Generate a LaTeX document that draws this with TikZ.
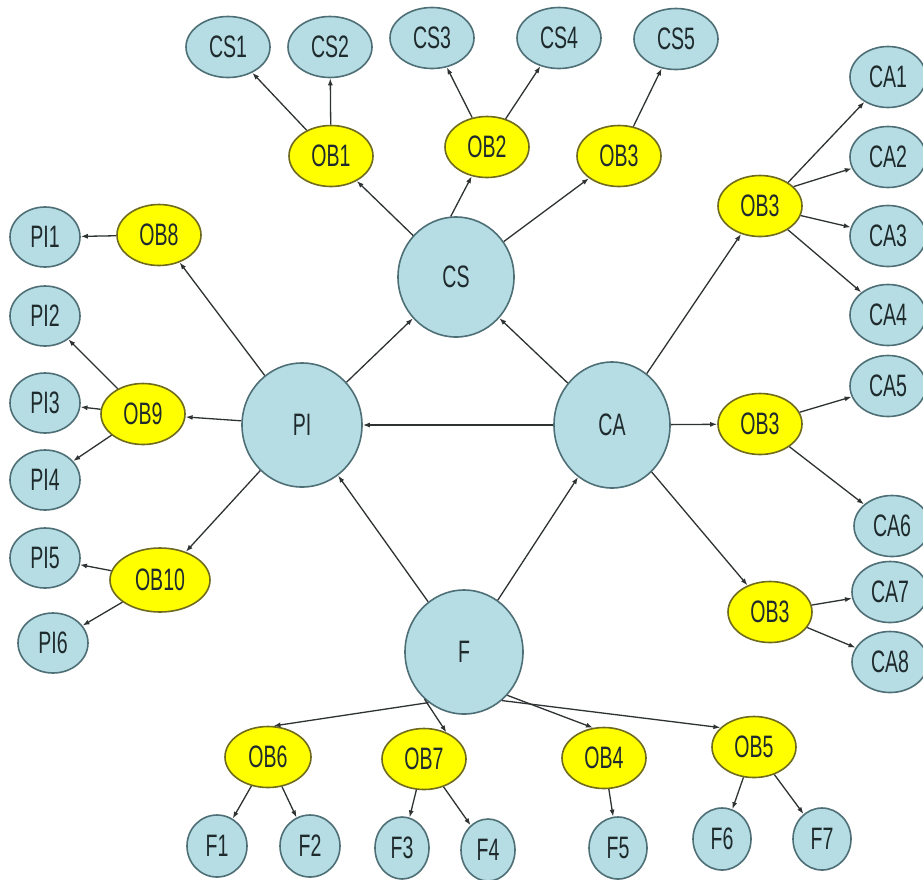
\documentclass[tikz,border=0pt]{standalone}
\usepackage{fontspec}
\setmainfont{Liberation Sans}[FakeStretch=0.63]
\usetikzlibrary{shapes.geometric,arrows.meta}
\definecolor{nodeblue}{HTML}{B6DCE4}
\definecolor{nodeblueline}{HTML}{4E6F75}
\definecolor{nodeyellow}{HTML}{FFFF00}
\definecolor{nodeyellowline}{HTML}{6E6A1E}
\definecolor{edgegray}{HTML}{2E3233}
\definecolor{labelink}{HTML}{1E2A2C}
\tikzset{
  base/.style={ellipse, inner sep=0pt, line width=1.6pt, text=labelink,
    font=\fontsize{31}{31}\selectfont},
  hub/.style={base, fill=nodeblue, draw=nodeblueline,
    minimum width=116pt, minimum height=122pt},
  obj/.style={base, fill=nodeyellow, draw=nodeyellowline,
    minimum width=84pt, minimum height=61pt},
  wide/.style={obj, minimum width=100pt, minimum height=64pt},
  leaf/.style={base, fill=nodeblue, draw=nodeblueline,
    minimum width=84pt, minimum height=61pt},
  pleaf/.style={leaf, minimum width=70pt, minimum height=60pt},
  fleaf/.style={leaf, minimum width=58pt, minimum height=62pt},
  link/.style={draw=edgegray, line width=1.3pt,
    -{Latex[length=7pt,width=5pt]}}
}
\begin{document}
\begin{tikzpicture}[x=1pt,y=-1pt]
\clip (0,0) rectangle (923,879);
\fill[white] (0,0) rectangle (923,879);

% central constructs
\node[hub, minimum height=120pt] (CS) at (456,277) {CS};
\node[hub, minimum width=120pt, minimum height=124pt] (PI) at (302,425) {PI};
\node[hub, minimum height=126pt] (CA) at (612,425) {CA};
\node[hub, minimum width=118pt, minimum height=124pt] (F) at (464,652) {F};

% CS branch
\node[obj] (ob1) at (331,156) {OB1};
\node[obj] (ob2) at (487,147) {OB2};
\node[obj] (ob3t) at (619,156) {OB3};
\node[leaf] (cs1) at (228,47) {CS1};
\node[leaf] (cs2) at (330,47) {CS2};
\node[leaf] (cs3) at (432,38) {CS3};
\node[leaf] (cs4) at (559,38) {CS4};
\node[leaf] (cs5) at (676,39) {CS5};

% CA branch
\node[obj] (ob3a) at (760,206) {OB3};
\node[obj] (ob3b) at (760,424) {OB3};
\node[obj] (ob3c) at (770,612) {OB3};
\node[leaf, minimum width=76pt] (ca1) at (888,77) {CA1};
\node[leaf, minimum width=76pt] (ca2) at (888,157) {CA2};
\node[leaf, minimum width=76pt] (ca3) at (888,236) {CA3};
\node[leaf, minimum width=76pt] (ca4) at (888,315) {CA4};
\node[leaf, minimum width=76pt] (ca5) at (888,386) {CA5};
\node[leaf, minimum width=76pt] (ca6) at (892,526) {CA6};
\node[leaf, minimum width=76pt] (ca7) at (890,592) {CA7};
\node[leaf, minimum width=76pt] (ca8) at (890,662) {CA8};

% PI branch
\node[obj] (ob8) at (159,235) {OB8};
\node[obj] (ob9) at (143,414) {OB9};
\node[wide] (ob10) at (160,580) {OB10};
\node[pleaf] (pi1) at (45,237) {PI1};
\node[pleaf] (pi2) at (45,316) {PI2};
\node[pleaf] (pi3) at (45,403) {PI3};
\node[pleaf] (pi4) at (45,480) {PI4};
\node[pleaf] (pi5) at (45,558) {PI5};
\node[pleaf] (pi6) at (53,643) {PI6};

% F branch
\node[obj, minimum width=86pt] (ob6) at (268,757) {OB6};
\node[obj] (ob7) at (424,759) {OB7};
\node[obj] (ob4) at (604,758) {OB4};
\node[obj] (ob5) at (754,747) {OB5};
\node[fleaf, minimum width=60pt] (f1) at (217,846) {F1};
\node[fleaf, minimum width=60pt] (f2) at (310,846) {F2};
\node[fleaf, minimum width=54pt] (f3) at (402,848) {F3};
\node[fleaf, minimum width=54pt] (f4) at (488,850) {F4};
\node[fleaf] (f5) at (618,848) {F5};
\node[fleaf] (f6) at (722,839) {F6};
\node[fleaf] (f7) at (822,839) {F7};

% links between the central constructs
\draw[link] (PI) -- (CS);
\draw[link] (CA) -- (CS);
\draw[link] (CA) -- (PI);
\draw[link] (F) -- (PI);
\draw[link] (F) -- (CA);

% CS links
\draw[link] (CS) -- (ob1);
\draw[link] (CS.95) -- (ob2);
\draw[link] (CS) -- (ob3t);
\draw[link] (ob1) -- (cs1);
\draw[link] (ob1) -- (cs2);
\draw[link] (ob2) -- (cs3);
\draw[link] (ob2) -- (cs4);
\draw[link] (ob3t) -- (cs5);

% CA links
\draw[link] (CA) -- (ob3a);
\draw[link] (CA) -- (ob3b);
\draw[link] (CA) -- (ob3c);
\draw[link] (ob3a.40) -- (ca1);
\draw[link] (ob3a.30) -- (ca2);
\draw[link] (ob3a) -- (ca3);
\draw[link] (ob3a) -- (ca4);
\draw[link] (ob3b) -- (ca5);
\draw[link] (ob3b) -- (ca6);
\draw[link] (ob3c) -- (ca7);
\draw[link] (ob3c) -- (ca8);

% PI links
\draw[link] (PI) -- (ob8);
\draw[link] (PI) -- (ob9);
\draw[link] (PI) -- (ob10);
\draw[link] (ob8) -- (pi1);
\draw[link] (ob9) -- (pi2);
\draw[link] (ob9) -- (pi3);
\draw[link] (ob9) -- (pi4);
\draw[link] (ob10) -- (pi5);
\draw[link] (ob10) -- (pi6);

% F links
\draw[link] (F.235) -- (ob6.80);
\draw[link] (F.230) -- (ob7.50);
\draw[link] (F.-45) -- (ob4.110);
\draw[link] (F.-52) -- (ob5.150);
\draw[link] (ob6) -- (f1);
\draw[link] (ob6) -- (f2);
\draw[link] (ob7) -- (f3);
\draw[link] (ob7) -- (f4);
\draw[link] (ob4) -- (f5);
\draw[link] (ob5) -- (f6);
\draw[link] (ob5) -- (f7);
\end{tikzpicture}
\end{document}
